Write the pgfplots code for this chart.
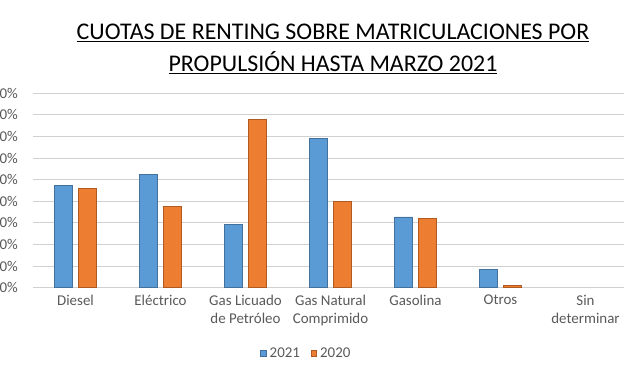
\documentclass[border=0pt]{standalone}
\usepackage{fontspec}
\setmainfont{Carlito}
\usepackage{pgfplots}
\pgfplotsset{compat=1.18}
\definecolor{bblue}{HTML}{5B9BD5}
\definecolor{bblueedge}{HTML}{41719C}
\definecolor{borange}{HTML}{ED7D31}
\definecolor{borangeedge}{HTML}{AE5A21}
\definecolor{gtext}{HTML}{595959}
\definecolor{ggrid}{HTML}{D0D0D0}
\begin{document}
\begin{tikzpicture}
\useasboundingbox (0,0) rectangle (624bp,385bp);
\begin{axis}[
  at={(33bp,97.3bp)}, anchor=south west,
  scale only axis, width=595bp, height=194.4bp,
  xmin=-0.5, xmax=6.5, ymin=0, ymax=90,
  ybar=6bp, bar width=18bp,
  xtick={0,...,6},
  xticklabels={Diesel, Eléctrico, {Gas Licuado\\de Petróleo}, {Gas Natural\\Comprimido}, Gasolina, Otros, {Sin\\determinar}},
  ytick={0,10,...,90},
  yticklabel={\pgfmathprintnumber{\tick}\%},
  /pgf/number format/assume math mode=true,
  ymajorgrids, grid style={draw=ggrid, line width=1bp},
  axis line style={draw=none},
  major tick length=0pt,
  tick label style={font=\fontsize{15}{18}\selectfont, text=gtext},
  xticklabel style={align=center, anchor=north, inner sep=0pt, yshift=-7bp},
  yticklabel style={anchor=east, inner sep=0pt, xshift=-15bp},
  legend style={at={(0.4597,-0.34)}, anchor=center, draw=none, fill=none,
    font=\fontsize{15}{18}\selectfont, text=gtext, legend columns=2,
    /tikz/every odd column/.append style={column sep=1bp},
    /tikz/every even column/.append style={column sep=8bp},
    nodes={inner xsep=2.5bp}},
  legend image code/.code={\fill[#1] (0bp,-2.5bp) rectangle (5.5bp,3bp);},
  clip=false,
]
\addplot[fill=bblue, draw=bblueedge, line width=0.6bp] coordinates {(0,47.2) (1,52.6) (2,29.2) (3,69.2) (4,32.8) (5,8.5)};
\addplot[fill=borange, draw=borangeedge, line width=0.6bp] coordinates {(0,46.0) (1,37.6) (2,78.1) (3,39.9) (4,32.2) (5,1.2)};
\legend{2021, 2020}
\end{axis}
\node[font=\fontsize{24}{28}\selectfont] at (333bp,352bp) {\underline{CUOTAS DE RENTING SOBRE MATRICULACIONES POR}};
\node[font=\fontsize{24}{28}\selectfont] at (333bp,322bp) {\underline{PROPULSIÓN HASTA MARZO 2021}};
\end{tikzpicture}
\end{document}
